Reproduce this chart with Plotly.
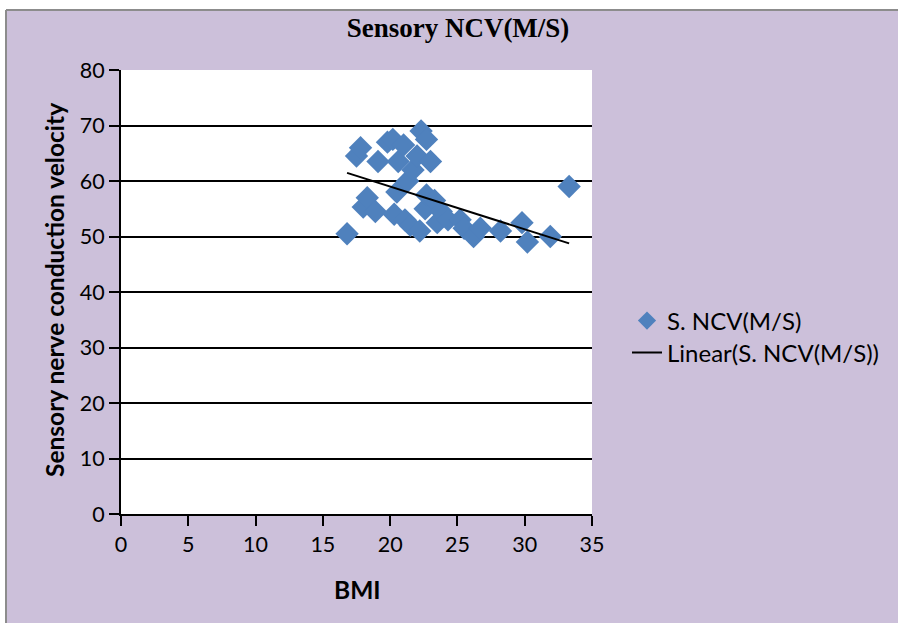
import plotly.graph_objects as go

# ---- data ----
bmi = [16.8, 17.5, 17.8, 18.0, 18.3, 18.9, 19.1, 19.8, 20.2, 20.3, 20.5, 20.6,
       21.0, 21.1, 21.3, 21.5, 21.7, 22.0, 22.2, 22.3, 22.6, 22.7, 22.7, 23.0,
       23.3, 23.5, 23.8, 24.3, 25.2, 25.5, 26.2, 26.7, 28.2, 29.8, 30.2, 31.9, 33.3]
ncv = [50.5, 64.5, 66.0, 55.3, 57.0, 54.5, 63.5, 67.0, 67.5, 54.0, 58.0, 63.5,
       66.5, 53.0, 60.0, 52.0, 62.0, 64.5, 51.0, 69.0, 55.0, 67.5, 57.5, 63.5,
       56.5, 52.5, 54.5, 53.0, 53.0, 51.5, 50.0, 51.5, 51.0, 52.5, 49.0, 50.0, 59.0]

# linear trendline coefficients (y = a*x + b)
trend_slope = -0.77
trend_intercept = 74.4

x_ticks = [0, 5, 10, 15, 20, 25, 30, 35]
y_ticks = [0, 10, 20, 30, 40, 50, 60, 70, 80]

title_text = "Sensory NCV(M/S)"
x_title = "BMI"
y_title = "Sensory nerve conduction velocity"
series_name = "S. NCV(M/S)"
trend_name = "Linear(S. NCV(M/S))"

# ---- layout constants ----
W, H = 898, 623
L, R, T, B = 121, 592, 70, 514
LAV = "#CCC0DA"
BLUE = "#4F81BD"


def xp(px):
    return (px - L) / (R - L)


def yp(py):
    return (B - py) / (B - T)


tx = [min(bmi), max(bmi)]
ty = [trend_slope * v + trend_intercept for v in tx]

fig = go.Figure()
fig.add_trace(go.Scatter(
    x=bmi, y=ncv, mode="markers", showlegend=False, name=series_name,
    marker=dict(symbol="diamond", size=18, color=BLUE, line=dict(width=0)),
))
fig.add_trace(go.Scatter(
    x=tx, y=ty, mode="lines", name=trend_name, showlegend=False,
    line=dict(color="black", width=2),
))
# legend entries
fig.add_trace(go.Scatter(
    x=[None], y=[None], mode="markers", name=series_name, legend="legend",
    marker=dict(symbol="diamond", size=14, color=BLUE, line=dict(width=0)),
))
fig.add_trace(go.Scatter(
    x=[None], y=[None], mode="lines", name=trend_name, legend="legend2",
    line=dict(color="black", width=2),
))

tickfont = dict(family="Lato", size=21.5, color="black")
legfont = dict(family="Lato", size=24, color="black")

fig.update_layout(
    width=W, height=H,
    margin=dict(l=L, r=W - R, t=T, b=H - B, autoexpand=False),
    paper_bgcolor=LAV,
    plot_bgcolor="white",
    showlegend=True,
    legend=dict(
        x=xp(627), xanchor="left", y=yp(321), yanchor="middle",
        font=legfont, bgcolor="rgba(0,0,0,0)", borderwidth=0, itemwidth=30,
    ),
    legend2=dict(
        x=xp(627), xanchor="left", y=yp(353), yanchor="middle",
        font=legfont, bgcolor="rgba(0,0,0,0)", borderwidth=0, itemwidth=30,
    ),
    title=dict(
        text=title_text, x=458 / W, xref="container", xanchor="center",
        y=1 - 28 / H, yref="container", yanchor="middle",
        font=dict(family="Liberation Serif", size=27, color="black", weight="bold"),
    ),
    xaxis=dict(
        range=[0, 35], tickvals=x_ticks, ticktext=[str(v) for v in x_ticks],
        showgrid=False, zeroline=False,
        showline=True, linecolor="black", linewidth=2,
        ticks="outside", ticklen=10, tickwidth=2, tickcolor="black",
        tickfont=tickfont,
    ),
    yaxis=dict(
        range=[0, 80], tickvals=y_ticks, ticktext=[str(v) for v in y_ticks],
        showgrid=True, gridcolor="black", gridwidth=2, zeroline=False,
        showline=True, linecolor="black", linewidth=2,
        ticks="outside", ticklen=10, tickwidth=2, tickcolor="black",
        tickfont=tickfont,
    ),
    shapes=[
        dict(type="rect", xref="paper", yref="paper", x0=-1, x1=2,
             y0=yp(10), y1=2, fillcolor="white", line=dict(width=0), layer="below"),
        dict(type="rect", xref="paper", yref="paper", x0=-1, x1=xp(6),
             y0=-1, y1=2, fillcolor="white", line=dict(width=0), layer="below"),
        dict(type="line", xref="paper", yref="paper", x0=xp(6), x1=2,
             y0=yp(10), y1=yp(10), line=dict(color="#8C8C8C", width=2), layer="below"),
        dict(type="line", xref="paper", yref="paper", x0=xp(6), x1=xp(6),
             y0=-1, y1=yp(10), line=dict(color="#8C8C8C", width=2), layer="below"),
    ],
    annotations=[
        dict(text=y_title, textangle=-90, xref="paper", yref="paper",
             x=xp(54), y=yp(290), xanchor="center", yanchor="middle", showarrow=False,
             font=dict(family="Lato", size=24.5, color="black", weight="bold")),
        dict(text=x_title, xref="paper", yref="paper",
             x=xp(357), y=yp(589), xanchor="center", yanchor="middle", showarrow=False,
             font=dict(family="Lato", size=24.5, color="black", weight="bold")),
    ],
)

fig.write_html(
    "out.html",
    config={"displayModeBar": False},
    post_script="document.body.style.margin='0';document.body.style.overflow='hidden';",
)
